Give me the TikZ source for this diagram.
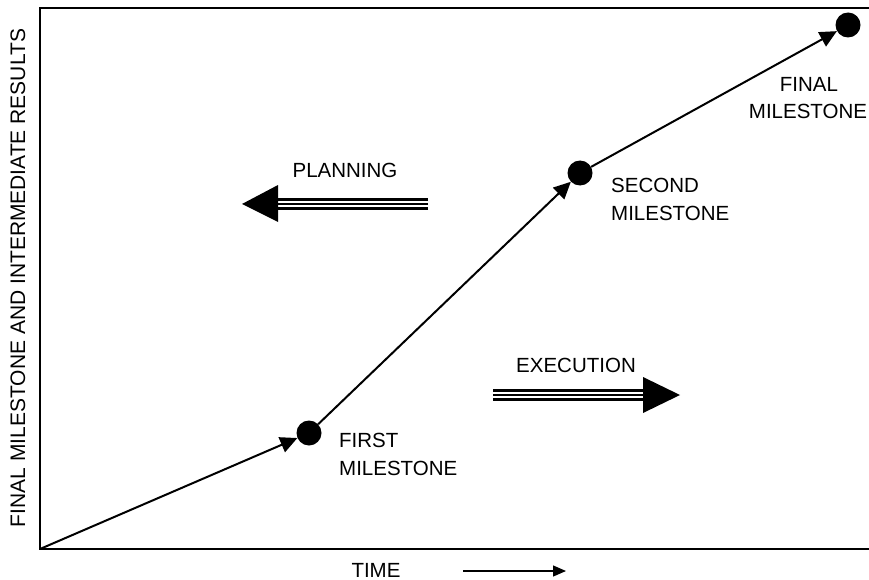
\documentclass[tikz,border=0pt]{standalone}
\usepackage{fontspec}
\setmainfont{Liberation Sans}
\usetikzlibrary{arrows.meta}
\begin{document}
\begin{tikzpicture}[x=1pt,y=-1pt,
  lbl/.style={inner sep=0pt, font=\fontsize{20.5}{27}\selectfont, text=black},
  dot/.style={circle, fill=black, inner sep=0pt, minimum size=25pt},
  pathline/.style={line width=2pt, -{Triangle[length=17pt,width=16pt]}},
  frame/.style={line width=1.4pt},
  tripleline/.style={line width=2.5pt},
  bighead/.style={fill=black}
]
\useasboundingbox (0,0) rectangle (869,580);
% frame
\coordinate (tr) at (869,8);
\coordinate (tl) at (40,8);
\coordinate (bl) at (40,549);
\coordinate (br) at (869,549);
\draw[frame] (tr) -- (tl) -- (bl) -- (br);
% milestones
\node[dot] (m1) at (309,433) {};
\node[dot] (m2) at (580,173) {};
\node[dot] (m3) at (848,25) {};
\draw[pathline] (bl) -- (m1);
\draw[pathline] (m1) -- (m2);
\draw[pathline] (m2) -- (m3);
% milestone labels
\node[lbl, anchor=base west] (f1) at (339,447) {FIRST};
\node[lbl, anchor=base west] (f2) at (339,475) {MILESTONE};
\node[lbl, anchor=base west] (s1) at (611,192) {SECOND};
\node[lbl, anchor=base west] (s2) at (611,220) {MILESTONE};
\node[lbl, anchor=base] (n1) at (809,92) {FINAL};
\node[lbl, anchor=base] (n2) at (808,119) {MILESTONE};
% planning
\node[lbl, anchor=base] (plan) at (345,178) {PLANNING};
\coordinate (pa) at (428,204);
\coordinate (pb) at (278,204);
\foreach \d in {-4.5,0,4.5}
  \draw[tripleline] ([yshift=\d pt]pa) -- ([yshift=\d pt]pb);
\fill[bighead] (278,185) -- (278,222) -- (242,204) -- cycle;
% execution
\node[lbl, anchor=base] (exec) at (576,372) {EXECUTION};
\coordinate (ea) at (493,395);
\coordinate (eb) at (643,395);
\foreach \d in {-4.5,0,4.5}
  \draw[tripleline] ([yshift=\d pt]ea) -- ([yshift=\d pt]eb);
\fill[bighead] (643,377) -- (643,413) -- (680,395) -- cycle;
% time
\node[lbl, anchor=base] (time) at (376,577) {TIME};
\coordinate (ta) at (463,571);
\coordinate (tb) at (566,571);
\draw[line width=1.2pt, -{Triangle[length=13pt,width=11pt]}] (ta) -- (tb);
% y label
\node[lbl, rotate=90, font=\fontsize{21}{27}\selectfont] (ylab) at (18,278) {FINAL MILESTONE AND INTERMEDIATE RESULTS};
\end{tikzpicture}
\end{document}
